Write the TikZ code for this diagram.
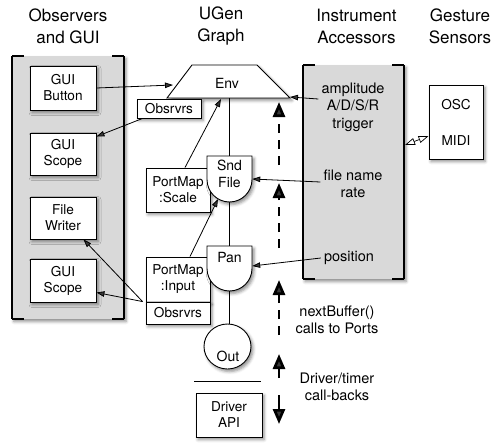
\documentclass[tikz,border=0pt]{standalone}
\usepackage{fontspec}
\setmainfont{TeX Gyre Heros}
\usetikzlibrary{arrows.meta,shapes.geometric,shadows.blur,calc}
\tikzset{
  shad/.style={blur shadow={shadow xshift=2pt,shadow yshift=-2.5pt,shadow blur radius=3pt,shadow opacity=45}},
  wbox/.style={draw, line width=0.9pt, fill=white, shad, inner sep=0pt, align=center, font=\fontsize{13.6}{16}\selectfont},
  hd/.style={align=center, font=\fontsize{17}{22}\selectfont},
  txt/.style={align=center, font=\fontsize{14.5}{17.5}\selectfont, inner sep=1pt},
  conn/.style={line width=0.8pt, -{Triangle[width=5.5pt,length=8pt]}},
  bigarrow/.style={line width=2.7pt, -{Triangle[width=12pt,length=15pt]}},
  dasharrow/.style={bigarrow, dash pattern=on 9pt off 7pt},
  panel/.style={fill=gray!30, shad},
  pline/.style={line width=1.1pt},
  shapeline/.style={draw, line width=0.9pt, fill=white, shad},
}
\begin{document}
\begin{tikzpicture}[x=1pt,y=-1pt]
\useasboundingbox (0,0) rectangle (493,444);

% headings
\node[hd] (h1) at (68,26) {Observers\\and GUI};
\node[hd] (h2) at (221,26) {UGen\\Graph};
\node[hd] (h3) at (356.5,26) {Instrument\\Accessors};
\node[hd] (h4) at (460,26) {Gesture\\Sensors};

% left panel
\fill[panel] (12,56) rectangle (124,319);
\draw[pline] (12,56)--(12,319) (124,56)--(124,319)
  (12,56)--(24,56) (112,56)--(124,56) (12,319)--(24,319) (112,319)--(124,319);

% right panel
\fill[panel] (303,65) rectangle (404,279);
\draw[pline] (303,65)--(303,279) (404,65)--(404,279)
  (303,65)--(315,65) (392,65)--(404,65) (303,279)--(315,279) (392,279)--(404,279);

% left boxes
\node[wbox, minimum width=66pt, minimum height=44pt] (btn) at (63,88) {GUI\\Button};
\node[wbox, minimum width=66pt, minimum height=42pt] (scope1) at (63,154) {GUI\\Scope};
\node[wbox, minimum width=66pt, minimum height=42pt] (fw) at (63,218) {File\\Writer};
\node[wbox, minimum width=66pt, minimum height=43pt] (scope2) at (63,280.5) {GUI\\Scope};

% vertical graph line
\coordinate (envbot) at (229,98);
\coordinate (sndtop) at (229,156);
\coordinate (sndbot) at (229,202);
\coordinate (pantop) at (229,246);
\coordinate (panbot) at (229,291);
\draw[line width=0.8pt] (envbot) -- (sndtop) (sndbot) -- (pantop);

% Env trapezoid
\path[shapeline] (192,65) -- (257,65) -- (290,98) -- (167,98) -- cycle;
\node[font=\fontsize{14}{16}\selectfont] (env) at (227,83) {Env};
\coordinate (envL) at (173,85);
\coordinate (envB) at (221,99);
\coordinate (envR) at (290,97);

% upper Obsrvrs
\node[wbox, minimum width=64pt, minimum height=19pt] (obsA) at (169,108.5) {Obsrvrs};

% PortMap boxes
\node[wbox, minimum width=64pt, minimum height=44pt] (pmS) at (178,190) {PortMap\\:Scale};
\node[wbox, minimum width=64pt, minimum height=45pt] (pmI) at (178,279.5) {PortMap\\:Input};
\node[wbox, minimum width=64pt, minimum height=22pt] (obsB) at (178,313) {Obsrvrs};

% Snd File and Pan shapes
\path[shapeline] (207,156) -- (252,156) -- (252,179.5) arc[start angle=0, end angle=-180, radius=22.5pt] -- cycle;
\node[txt, font=\fontsize{14}{17}\selectfont, minimum width=45pt, inner sep=0pt] (snd) at (229.5,174) {Snd\\File};
\path[shapeline] (207,246) -- (252,246) -- (252,268.5) arc[start angle=0, end angle=-180, radius=22.5pt] -- cycle;
\node[txt, font=\fontsize{14}{17}\selectfont, minimum width=45pt, inner sep=0pt] (pan) at (229.5,258) {Pan};

% Out
\node[shapeline, ellipse, minimum width=47pt, minimum height=45pt, inner sep=0pt] (out) at (227.5,346.5) {};
\node[font=\fontsize{14}{16}\selectfont] (outlbl) at (228,356) {Out};
\draw[line width=0.8pt] (panbot) -- (panbot |- out.north);

% separator and driver
\draw[line width=0.8pt] (194,381) -- (261,381);
\node[wbox, minimum width=66pt, minimum height=44pt] (drv) at (229,415) {Driver\\API};

% gesture box
\node[wbox, minimum width=54pt, minimum height=74pt] (gest) at (456,122) {OSC\\[20pt]MIDI};

% accessor texts
\node[txt] (acc1) at (353,107) {amplitude\\A/D/S/R\\trigger};
\node[txt] (fr) at (353,184) {file name\\rate};
\node[txt] (pos) at (349,258) {position};

% bottom texts
\node[txt, font=\fontsize{14.5}{17}\selectfont] (nb) at (337,320) {nextBuffer()\\calls to Ports};
\node[txt, font=\fontsize{14.5}{17.5}\selectfont] (dt) at (337,387) {Driver/timer\\call-backs};

% connectors
\draw[conn] (btn.east) -- (envL);
\draw[conn] ([xshift=6pt]obsA.south west) -- ([yshift=-4pt]scope1.north east);
\draw[conn] ([xshift=7pt]pmS.north) -- (envB);
\draw[conn] ([xshift=12pt]pmI.north) -- ([xshift=-11.5pt,yshift=-25pt]snd.center);
\draw[conn] ([xshift=-3pt]obsB.north west) -- ([xshift=-13pt]fw.south east);
\draw[conn] ([xshift=-3pt]obsB.north west) -- ([yshift=-12pt]scope2.east);
\draw[conn] ([xshift=-2pt,yshift=8pt]acc1.west) -- (envR);
\draw[conn] ([xshift=-2pt,yshift=2pt]fr.west) -- ([yshift=-5pt]snd.east);
\draw[conn] ([xshift=-2pt]pos.west) -- ([yshift=-8pt]pan.east);

% double open arrow
\coordinate (accR) at (405,145);
\draw[line width=0.7pt, {Triangle[open,width=7pt,length=10pt]}-{Triangle[open,width=7pt,length=10pt]}] (accR) -- ([yshift=-14pt]gest.west);

% big dashed arrows
\coordinate (d1s) at (279,165); \coordinate (d1e) at (279,102);
\coordinate (d2s) at (279,248); \coordinate (d2e) at (279,183);
\coordinate (d3s) at (279,335); \coordinate (d3e) at (279,280);
\coordinate (d4s) at (279,378); \coordinate (d4e) at (279,354);
\coordinate (d5s) at (279,395); \coordinate (d5e) at (279,424);
\draw[dasharrow] (d1s) -- (d1e);
\draw[dasharrow] (d2s) -- (d2e);
\draw[dasharrow] (d3s) -- (d3e);
\draw[bigarrow] (d4s) -- (d4e);
\draw[bigarrow] (d5s) -- (d5e);
\end{tikzpicture}
\end{document}
